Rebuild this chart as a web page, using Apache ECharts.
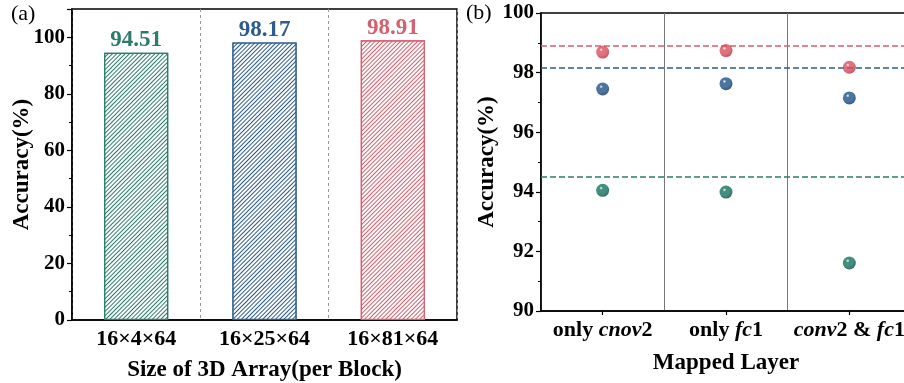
<!DOCTYPE html>
<html><head><meta charset="utf-8">
<script src="https://cdn.jsdelivr.net/npm/echarts@6/dist/echarts.min.js"></script>
<style>html,body{margin:0;padding:0;background:#fff}#c{width:904px;height:383px}</style>
</head><body><div id="c"></div>
<script>
// ---- data ----
const barCategories = ['16×4×64', '16×25×64', '16×81×64'];
const barValues = [94.51, 98.17, 98.91];
const layerCategories = ['only {i|cnov}2', 'only {i|fc}1', '{i|conv}2 & {i|fc}1'];
const seriesNames = ['16×4×64', '16×25×64', '16×81×64'];
const greenPts = [94.05, 93.99, 91.61];
const bluePts = [97.45, 97.63, 97.15];
const redPts = [98.69, 98.74, 98.18];
const leftTicks = {min: 0, max: 110, interval: 20};
const rightTicks = {min: 90, max: 100, interval: 2};

// ---- styles ----
const lineColors = ['#2a7d68', '#2c5b8c', '#d65f6d'];
const sphereDark = ['#044a3d', '#0d335a', '#ad2f40'];
const sphereMid = ['#137360', '#1f5389', '#d84e5d'];
const FONT = 'Liberation Serif';

function hatch(color) {
  return {symbol: 'rect', symbolSize: 1, symbolKeepAspect: false, color: color,
          backgroundColor: '#ffffff', dashArrayX: [1, 0], dashArrayY: [1, 2], rotation: -Math.PI / 4};
}
function sphere(i) {
  return {type: 'radial', x: 0.38, y: 0.33, r: 0.7, colorStops: [
    {offset: 0, color: '#ffffff'},
    {offset: 0.2, color: sphereMid[i]},
    {offset: 0.6, color: sphereMid[i]},
    {offset: 1, color: sphereDark[i]}
  ]};
}

const chart = echarts.init(document.getElementById('c'), null, {renderer: 'canvas'});
const axisLine = {show: true, lineStyle: {color: '#000', width: 1.5}};
const tickLabel = {fontFamily: FONT, fontWeight: 'bold', fontSize: 21, color: '#000'};
const catLabel = {fontFamily: FONT, fontWeight: 'bold', fontSize: 22, color: '#000'};
const nameStyle = {fontFamily: FONT, fontWeight: 'bold', fontSize: 23, color: '#000'};

const ptsArr = [greenPts, bluePts, redPts];
const scatterSeries = ptsArr.map((pts, i) => ({
  type: 'scatter', name: seriesNames[i], xAxisIndex: 1, yAxisIndex: 1,
  data: pts, symbol: 'circle', symbolSize: 13,
  itemStyle: {color: sphere(i)}, z: 5,
  markLine: {
    silent: true, symbol: 'none', label: {show: false},
    lineStyle: {type: [6, 3], color: lineColors[i], width: 1.5},
    data: [{yAxis: barValues[i]}]
  }
}));

chart.setOption({
  animation: false,
  backgroundColor: '#fff',
  grid: [
    {left: 72, top: 9, width: 385, height: 311, show: true, borderColor: '#000', borderWidth: 1.5,
     backgroundColor: 'transparent', outerBoundsMode: 'none', containLabel: false},
    {left: 541, top: 13, width: 370, height: 298, show: true, borderColor: '#000', borderWidth: 1.5,
     backgroundColor: 'transparent', outerBoundsMode: 'none', containLabel: false}
  ],
  xAxis: [
    {type: 'category', gridIndex: 0, data: barCategories, axisLine,
     axisTick: {show: false},
     axisLabel: Object.assign({margin: 8, interval: 0}, catLabel),
     splitLine: {show: true, interval: 0, lineStyle: {color: '#999', type: [3, 3], width: 1}},
     name: 'Size of 3D Array(per Block)', nameLocation: 'middle', nameGap: 39, nameTextStyle: nameStyle},
    {type: 'category', gridIndex: 1, data: layerCategories, axisLine,
     axisTick: {show: true, alignWithLabel: true, interval: 0, length: 4, lineStyle: {color: '#000', width: 1.2}},
     axisLabel: Object.assign({margin: 8, interval: 0, hideOverlap: false,
       rich: {i: {fontFamily: FONT, fontWeight: 'bold', fontStyle: 'italic', fontSize: 22, color: '#000'}}}, catLabel),
     splitLine: {show: true, interval: 0, lineStyle: {color: '#777', type: 'solid', width: 1}},
     name: 'Mapped Layer', nameLocation: 'middle', nameGap: 41, nameTextStyle: nameStyle}
  ],
  yAxis: [
    {type: 'value', gridIndex: 0, min: leftTicks.min, max: leftTicks.max, interval: leftTicks.interval,
     axisLine, axisTick: {show: true, length: 5, lineStyle: {color: '#000', width: 1.2}},
     minorTick: {show: true, splitNumber: 2, length: 3, lineStyle: {color: '#000', width: 1}},
     splitLine: {show: false},
     axisLabel: Object.assign({margin: 7, showMaxLabel: false}, tickLabel),
     name: 'Accuracy(%)', nameLocation: 'middle', nameGap: 38, nameMoveOverlap: false, nameTextStyle: nameStyle},
    {type: 'value', gridIndex: 1, min: rightTicks.min, max: rightTicks.max, interval: rightTicks.interval,
     axisLine, axisTick: {show: true, length: 5, lineStyle: {color: '#000', width: 1.2}},
     minorTick: {show: true, splitNumber: 2, length: 3, lineStyle: {color: '#000', width: 1}},
     splitLine: {show: false},
     axisLabel: Object.assign({margin: 7}, tickLabel),
     name: 'Accuracy(%)', nameLocation: 'middle', nameGap: 41, nameTextStyle: nameStyle}
  ],
  series: [
    {type: 'bar', xAxisIndex: 0, yAxisIndex: 0, barWidth: '50%',
     data: barValues.map((v, i) => ({
       value: v,
       itemStyle: {color: '#ffffff', borderColor: lineColors[i], borderWidth: 1.3, decal: hatch(lineColors[i])},
       label: {color: lineColors[i]}
     })),
     label: {show: true, position: 'top', distance: 1, fontFamily: FONT, fontWeight: 'bold', fontSize: 23,
             formatter: p => p.value.toFixed(2)}
    }
  ].concat(scatterSeries),
  graphic: [
    {type: 'text', left: 11, top: 3, style: {text: '(a)', font: '22px "Liberation Serif"', fill: '#000'}},
    {type: 'text', left: 466, top: 2, style: {text: '(b)', font: '22px "Liberation Serif"', fill: '#000'}}
  ]
});
</script>
</body></html>
